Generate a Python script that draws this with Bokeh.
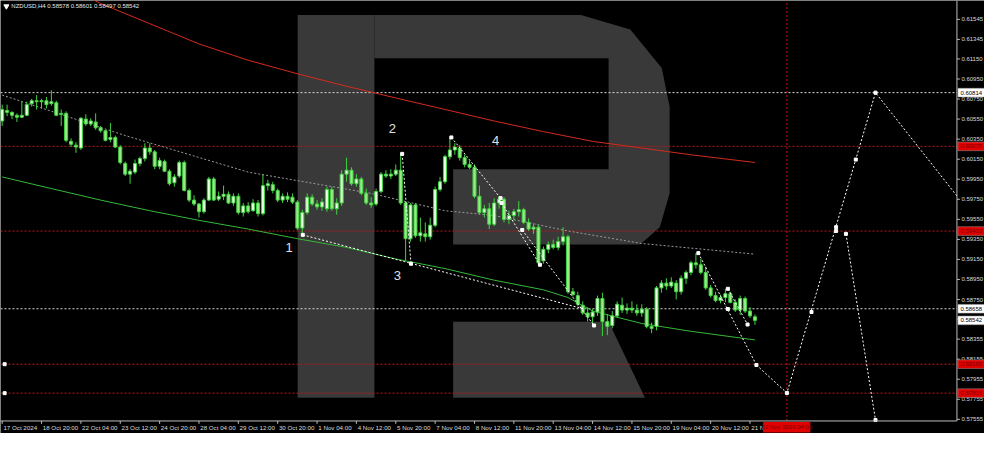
import numpy as np
from bokeh.plotting import figure
from bokeh.models import Range1d, ColumnDataSource
from bokeh.embed import file_html
from bokeh.resources import INLINE
from bokeh.core.properties import value

# ---------------- data (NZDUSD H4) ----------------
opens = [0.60531, 0.60636, 0.60617, 0.60588, 0.60569, 0.60588, 0.60704, 0.60733, 0.60723, 0.60733,
         0.60704, 0.60713, 0.60598, 0.60607, 0.60328, 0.60290, 0.60261, 0.60550, 0.60502, 0.60521,
         0.60463, 0.60434, 0.60348, 0.60367, 0.60271, 0.60107, 0.60001, 0.60021, 0.60107, 0.60156,
         0.60261, 0.60223, 0.60079, 0.60127, 0.60030, 0.59915, 0.59982, 0.60117, 0.59838, 0.59742,
         0.59703, 0.59626, 0.59742, 0.59953, 0.59751, 0.59780, 0.59800, 0.59713, 0.59780, 0.59617,
         0.59684, 0.59636, 0.59713, 0.59607, 0.59886, 0.59896, 0.59838, 0.59742, 0.59780, 0.59771,
         0.59722, 0.59463, 0.59617, 0.59771, 0.59703, 0.59674, 0.59655, 0.59848, 0.59655, 0.59713,
         0.60001, 0.60040, 0.59905, 0.59953, 0.59809, 0.59713, 0.59703, 0.59828, 0.60001, 0.59982,
         0.60001, 0.60040, 0.59713, 0.59357, 0.59694, 0.59386, 0.59405, 0.59376, 0.59491, 0.59848,
         0.59925, 0.60175, 0.60242, 0.60261, 0.60165, 0.60098, 0.60069, 0.59780, 0.59617, 0.59655,
         0.59501, 0.59713, 0.59751, 0.59549, 0.59588, 0.59626, 0.59646, 0.59520, 0.59453, 0.59472,
         0.59136, 0.59251, 0.59299, 0.59270, 0.59328, 0.59376, 0.58828, 0.58789, 0.58693, 0.58616,
         0.58578, 0.58626, 0.58760, 0.58530, 0.58491, 0.58587, 0.58693, 0.58645, 0.58664, 0.58645,
         0.58616, 0.58655, 0.58482, 0.58482, 0.58866, 0.58914, 0.58885, 0.58914, 0.58828, 0.58962,
         0.59020, 0.59116, 0.59097, 0.59020, 0.58866, 0.58789, 0.58741, 0.58770, 0.58808, 0.58722,
         0.58645, 0.58760, 0.58635, 0.58578]
highs = [0.60694, 0.60694, 0.60627, 0.60607, 0.60723, 0.60723, 0.60752, 0.60790, 0.60752, 0.60771,
         0.60838, 0.60733, 0.60646, 0.60627, 0.60357, 0.60319, 0.60569, 0.60598, 0.60559, 0.60607,
         0.60482, 0.60444, 0.60511, 0.60386, 0.60290, 0.60127, 0.60050, 0.60146, 0.60175, 0.60309,
         0.60309, 0.60242, 0.60165, 0.60146, 0.60050, 0.60001, 0.60136, 0.60136, 0.59857, 0.59790,
         0.59713, 0.59761, 0.59973, 0.59973, 0.59828, 0.59886, 0.59828, 0.59809, 0.59809, 0.59713,
         0.59722, 0.59751, 0.59742, 0.60001, 0.59944, 0.59925, 0.59857, 0.59809, 0.59819, 0.59809,
         0.59742, 0.59646, 0.59809, 0.59800, 0.59742, 0.59761, 0.59876, 0.59876, 0.59761, 0.60040,
         0.60165, 0.60069, 0.60001, 0.59973, 0.59857, 0.59771, 0.59857, 0.60021, 0.60040, 0.60050,
         0.60098, 0.60203, 0.59732, 0.59713, 0.59713, 0.59568, 0.59520, 0.59568, 0.59876, 0.59973,
         0.60194, 0.60367, 0.60309, 0.60290, 0.60194, 0.60136, 0.60098, 0.59886, 0.59694, 0.59713,
         0.59761, 0.59780, 0.59771, 0.59636, 0.59655, 0.59732, 0.59665, 0.59559, 0.59501, 0.59491,
         0.59280, 0.59328, 0.59347, 0.59376, 0.59472, 0.59395, 0.58866, 0.58828, 0.58732, 0.58674,
         0.58655, 0.58789, 0.58818, 0.58607, 0.58635, 0.58732, 0.58770, 0.58712, 0.58732, 0.58703,
         0.58703, 0.58674, 0.58520, 0.58885, 0.58943, 0.58962, 0.58972, 0.58943, 0.58991, 0.59040,
         0.59136, 0.59213, 0.59155, 0.59078, 0.58895, 0.58828, 0.58799, 0.58857, 0.58828, 0.58751,
         0.58789, 0.58780, 0.58674, 0.58601]
lows = [0.60482, 0.60579, 0.60550, 0.60521, 0.60559, 0.60579, 0.60675, 0.60646, 0.60656, 0.60656,
        0.60684, 0.60579, 0.60482, 0.60319, 0.60271, 0.60213, 0.60242, 0.60482, 0.60482, 0.60444,
        0.60415, 0.60328, 0.60319, 0.60261, 0.60098, 0.59982, 0.59905, 0.60001, 0.60079, 0.60127,
        0.60194, 0.60050, 0.60050, 0.60021, 0.59886, 0.59876, 0.59963, 0.59828, 0.59722, 0.59684,
        0.59568, 0.59607, 0.59732, 0.59732, 0.59732, 0.59742, 0.59703, 0.59684, 0.59597, 0.59578,
        0.59607, 0.59626, 0.59578, 0.59588, 0.59838, 0.59809, 0.59722, 0.59713, 0.59722, 0.59703,
        0.59444, 0.59395, 0.59597, 0.59684, 0.59646, 0.59636, 0.59626, 0.59636, 0.59597, 0.59684,
        0.59925, 0.59886, 0.59876, 0.59790, 0.59694, 0.59665, 0.59684, 0.59809, 0.59963, 0.59953,
        0.59982, 0.59694, 0.59136, 0.59328, 0.59366, 0.59328, 0.59328, 0.59347, 0.59472, 0.59828,
        0.59905, 0.60146, 0.60194, 0.60136, 0.60069, 0.60050, 0.59761, 0.59597, 0.59568, 0.59453,
        0.59482, 0.59655, 0.59520, 0.59501, 0.59540, 0.59578, 0.59501, 0.59434, 0.59405, 0.59097,
        0.59107, 0.59213, 0.59251, 0.59241, 0.59290, 0.58808, 0.58780, 0.58683, 0.58597, 0.58530,
        0.58491, 0.58587, 0.58385, 0.58395, 0.58462, 0.58568, 0.58616, 0.58607, 0.58616, 0.58587,
        0.58578, 0.58462, 0.58414, 0.58443, 0.58818, 0.58847, 0.58866, 0.58751, 0.58799, 0.58905,
        0.58991, 0.59059, 0.59001, 0.58847, 0.58770, 0.58722, 0.58712, 0.58722, 0.58712, 0.58626,
        0.58597, 0.58616, 0.58568, 0.58497]
closes = [0.60646, 0.60617, 0.60588, 0.60569, 0.60588, 0.60694, 0.60733, 0.60723, 0.60733, 0.60694,
          0.60723, 0.60588, 0.60607, 0.60338, 0.60299, 0.60271, 0.60559, 0.60502, 0.60531, 0.60463,
          0.60434, 0.60338, 0.60367, 0.60271, 0.60117, 0.60001, 0.60030, 0.60107, 0.60156, 0.60261,
          0.60223, 0.60079, 0.60136, 0.60030, 0.59905, 0.59973, 0.60117, 0.59838, 0.59742, 0.59703,
          0.59626, 0.59742, 0.59953, 0.59742, 0.59780, 0.59800, 0.59713, 0.59780, 0.59617, 0.59684,
          0.59626, 0.59713, 0.59607, 0.59886, 0.59905, 0.59838, 0.59742, 0.59780, 0.59751, 0.59722,
          0.59463, 0.59617, 0.59771, 0.59703, 0.59674, 0.59722, 0.59848, 0.59655, 0.59713, 0.60001,
          0.60040, 0.59905, 0.59953, 0.59809, 0.59713, 0.59694, 0.59828, 0.60001, 0.59982, 0.60001,
          0.60040, 0.59713, 0.59357, 0.59694, 0.59386, 0.59415, 0.59376, 0.59491, 0.59848, 0.59925,
          0.60175, 0.60242, 0.60271, 0.60165, 0.60098, 0.60069, 0.59780, 0.59617, 0.59655, 0.59501,
          0.59713, 0.59751, 0.59549, 0.59588, 0.59626, 0.59646, 0.59520, 0.59453, 0.59472, 0.59116,
          0.59251, 0.59299, 0.59270, 0.59328, 0.59376, 0.58828, 0.58799, 0.58703, 0.58616, 0.58578,
          0.58626, 0.58760, 0.58530, 0.58482, 0.58587, 0.58703, 0.58645, 0.58664, 0.58645, 0.58616,
          0.58655, 0.58482, 0.58462, 0.58866, 0.58914, 0.58885, 0.58924, 0.58828, 0.58962, 0.59020,
          0.59116, 0.59097, 0.59020, 0.58866, 0.58789, 0.58741, 0.58770, 0.58808, 0.58722, 0.58645,
          0.58760, 0.58635, 0.58587, 0.58542]

time_tick_bars = [0, 8, 16, 24, 32, 40, 48, 56, 64, 72, 80, 88, 96, 104, 112, 120, 128, 136, 144, 152]
time_tick_labels = ["17 Oct 2024", "18 Oct 20:00", "22 Oct 04:00", "23 Oct 12:00", "24 Oct 20:00",
                    "28 Oct 04:00", "29 Oct 12:00", "30 Oct 20:00", "1 Nov 04:00", "4 Nov 12:00",
                    "5 Nov 20:00", "7 Nov 04:00", "8 Nov 12:00", "11 Nov 20:00", "13 Nov 04:00",
                    "14 Nov 12:00", "15 Nov 20:00", "19 Nov 04:00", "20 Nov 12:00", "21 Nov 20:00"]
price_ticks = [0.61545, 0.61345, 0.61150, 0.60950, 0.60750, 0.60550, 0.60350, 0.60150, 0.59950,
               0.59750, 0.59550, 0.59350, 0.59150, 0.58950, 0.58750, 0.58555, 0.58355, 0.58155,
               0.57955, 0.57755, 0.57555]

# moving averages (sampled)
red_ma_bars = [0, 10, 20, 30, 40, 50, 60, 70, 80, 90, 100, 110, 120, 130, 140, 153]
red_ma_vals = [0.62195, 0.61945, 0.61704, 0.61502, 0.61300, 0.61137, 0.61002, 0.60877, 0.60761,
               0.60646, 0.60531, 0.60425, 0.60328, 0.60261, 0.60194, 0.60117]
green_ma_bars = [0, 10, 20, 30, 40, 50, 60, 70, 80, 90, 100, 110, 115, 120, 130, 140, 153]
green_ma_vals = [0.59973, 0.59857, 0.59742, 0.59636, 0.59540, 0.59453, 0.59357, 0.59270, 0.59155,
                 0.59059, 0.58943, 0.58847, 0.58770, 0.58635, 0.58511, 0.58433, 0.58347]
gray_ma_bars = [0, 25, 50, 75, 90, 100, 115, 130, 153]
gray_ma_vals = [0.60790, 0.60386, 0.60021, 0.59809, 0.59636, 0.59588, 0.59434, 0.59309, 0.59203]

# wave markup / forecast
wave_lines = [
    ([61.1, 118.3], [0.59395, 0.58655]),
    ([81.3, 83.1], [0.60203, 0.59107]),
    ([91.3, 101.3], [0.60367, 0.59761]),
    ([101.5, 109.3], [0.59713, 0.59097]),
    ([105.7, 120.3], [0.59444, 0.58491]),
    ([141.5, 153.3], [0.59213, 0.58097]),
    ([147.5, 151.5], [0.58857, 0.58501]),
    ([153.3, 159.5, 177.5, 194.06], [0.58097, 0.57818, 0.60814, 0.59783]),
    ([171.5, 177.5], [0.59405, 0.57548]),
]
wave_pts_x = [61.1, 81.3, 83.1, 91.3, 101.3, 101.5, 105.7, 109.3, 120.3, 141.5, 147.5, 147.5, 151.5,
              153.3, 159.5, 164.5, 169.5, 169.5, 171.5, 173.5, 177.5, 177.5, 0.5, 0.5]
wave_pts_y = [0.59395, 0.60203, 0.59107, 0.60367, 0.59761, 0.59713, 0.59444, 0.59097, 0.58491, 0.59213,
              0.58857, 0.58655, 0.58501, 0.58097, 0.57818, 0.58626, 0.59472, 0.59434, 0.59405, 0.60146,
              0.60814, 0.57548, 0.58105, 0.57816]
wave_names = ["1", "2", "3", "4"]
wave_name_x = [58.3, 79.3, 80.3, 100.3]
wave_name_y = [0.59270, 0.60454, 0.58991, 0.60338]

white_levels = [0.60814, 0.58658]
red_levels = [0.60278, 0.59433, 0.58105, 0.57816]
red_vline_bar = 159.5
current_price = 0.58542
header_text = "NZDUSD,H4  0.58578 0.58601 0.58497 0.58542"
vline_time_text = "22 Nov 2024 04:00"


# ---------------- geometry helpers (reference pixel layout -> data) ----------------
def px2x(x):
    return (x - 1.7) / 5.0


def px2y(y):
    return 0.61733 - 0.0000962 * y


DY = 0.0000962          # price per reference pixel
X_LEFT, X_AXIS, X_RIGHT = px2x(0), px2x(972), px2x(1000)
Y_TOP, Y_AXIS, Y_BOTTOM = px2y(0), px2y(436), px2y(449)

p = figure(width=984, height=433, x_range=Range1d(X_LEFT, X_RIGHT), y_range=Range1d(Y_BOTTOM, Y_TOP),
           output_backend="svg", toolbar_location=None, background_fill_color="black",
           border_fill_color="black", min_border=0, outline_line_color=None,
           x_axis_location=None, y_axis_location=None)
p.grid.visible = False

FONT = value("Liberation Sans")
AX_COL = "#bdbdbd"
LBL_COL = "#dcdcdc"

# watermark (decorative "R" logo)
wm_polys = [
    [(302, 15), (380, 15), (380, 412), (302, 412)],
    [(380, 15), (590, 15), (640, 30), (672, 70), (680, 110), (680, 200), (670, 235), (650, 253),
     (460, 253), (460, 175), (618, 175), (618, 60), (380, 60)],
    [(460, 333), (618, 333), (655, 412), (460, 412)],
]
p.patches([[px2x(a) for a, b in poly] for poly in wm_polys],
          [[px2y(b) for a, b in poly] for poly in wm_polys],
          fill_color="#393939", line_color=None)

# horizontal / vertical levels (stop at the price axis)
p.segment(x0=[X_LEFT] * 2, x1=[X_AXIS] * 2, y0=white_levels, y1=white_levels,
          line_color="#d8d8d8", line_dash="2 2", line_width=1)
p.segment(x0=[X_LEFT] * 4, x1=[X_AXIS] * 4, y0=red_levels, y1=red_levels,
          line_color="#c01818", line_dash="2 2", line_width=1)
p.segment(x0=[red_vline_bar], x1=[red_vline_bar], y0=[Y_AXIS], y1=[Y_TOP],
          line_color="#c01818", line_dash="2 2", line_width=1)

# moving averages
p.line(red_ma_bars, red_ma_vals, line_color="#d42a1e", line_width=1)
p.line(green_ma_bars, green_ma_vals, line_color="#35b838", line_width=1)
p.line(gray_ma_bars, gray_ma_vals, line_color="#9a9a9a", line_width=1, line_dash="2 2")

# candles
idx = np.arange(len(opens))
o = np.array(opens); c = np.array(closes); h = np.array(highs); l = np.array(lows)
src = ColumnDataSource(dict(x=idx, o=o, c=c, h=h, l=l,
                            top=np.maximum(o, c), bottom=np.minimum(o, c),
                            fill=["#e6ffdf" if cc >= oo else "#9be889" for oo, cc in zip(o, c)]))
p.segment(x0="x", y0="h", x1="x", y1="l", source=src, line_color="#3fd43f", line_width=1)
p.vbar(x="x", top="top", bottom="bottom", width=0.62, source=src, fill_color="fill",
       line_color="#3fd43f", line_width=1)

# wave lines
for xs, ys in wave_lines:
    p.line(xs, ys, line_color="white", line_width=1, line_dash="2 2")
p.scatter(wave_pts_x, wave_pts_y, marker="square", size=3, fill_color="white", line_color="white")
p.text(wave_name_x, wave_name_y, text=wave_names, text_color="#e0e0e0", text_font_size="13px",
       text_font=FONT, text_align="center", text_baseline="middle")

# ---- price axis (right) ----
p.segment(x0=[X_AXIS], x1=[X_AXIS], y0=[Y_AXIS], y1=[Y_TOP], line_color=AX_COL, line_width=1)
p.segment(x0=[X_AXIS] * len(price_ticks), x1=[px2x(975)] * len(price_ticks),
          y0=price_ticks, y1=price_ticks, line_color=AX_COL, line_width=1)
p.text([px2x(976.5)] * len(price_ticks), price_ticks, text=["%.5f" % t for t in price_ticks],
       text_color=LBL_COL, text_font_size="6px", text_font=FONT, text_baseline="middle",
       text_align="left")

# ---- time axis (bottom) ----
p.segment(x0=[X_LEFT], x1=[X_AXIS], y0=[Y_AXIS], y1=[Y_AXIS], line_color=AX_COL, line_width=1)
p.segment(x0=time_tick_bars, x1=time_tick_bars, y0=[Y_AXIS] * len(time_tick_bars),
          y1=[px2y(439)] * len(time_tick_bars), line_color=AX_COL, line_width=1)
p.text([b + 0.25 for b in time_tick_bars], [px2y(442.5)] * len(time_tick_bars), text=time_tick_labels,
       text_color=LBL_COL, text_font_size="6.2px", text_font=FONT, text_baseline="middle",
       text_align="left")

# ---- price boxes on the axis ----
box_levels = [white_levels[0], red_levels[0], red_levels[1], white_levels[1], current_price,
              red_levels[2], red_levels[3]]
box_fill = ["white", "#e00000", "#e00000", "white", "white", "#e00000", "#e00000"]
box_text_col = ["black", "#7a0000", "#7a0000", "black", "black", "#7a0000", "#7a0000"]
p.quad(left=[px2x(973)] * len(box_levels), right=[px2x(1000)] * len(box_levels),
       top=[v + 4.5 * DY for v in box_levels], bottom=[v - 4.5 * DY for v in box_levels],
       fill_color=box_fill, line_color="#9a9a9a", line_width=0.5)
p.text([px2x(975.5)] * len(box_levels), box_levels, text=["%.5f" % v for v in box_levels],
       text_color=box_text_col, text_font_size="6px", text_font=FONT, text_baseline="middle",
       text_align="left")

# ---- time box of the vertical line ----
p.quad(left=[px2x(775)], right=[px2x(823)], top=[px2y(437)], bottom=[px2y(448)],
       fill_color="#e00000", line_color=None)
p.text([red_vline_bar], [px2y(442.5)], text=[vline_time_text], text_color="#7a0000",
       text_font_size="6px", text_font=FONT, text_baseline="middle", text_align="center")

# ---- header ----
p.scatter([px2x(6)], [px2y(6)], marker="inverted_triangle", size=5, fill_color="white", line_color="white")
p.text([px2x(11)], [px2y(6)], text=[header_text], text_color="#e8e8e8", text_font_size="6px",
       text_font=FONT, text_baseline="middle", text_align="left")

html = file_html(p, INLINE, "NZDUSD H4")
html = html.replace("<body>", '<body style="background:#000000;">', 1)
open("out.html", "w").write(html)
